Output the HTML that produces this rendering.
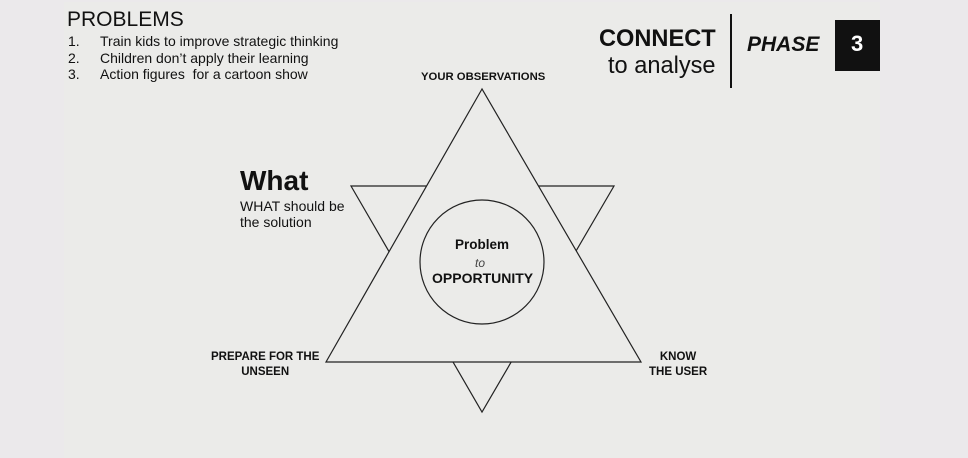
<!DOCTYPE html>
<html><head><meta charset="utf-8"><style>
html,body{margin:0;padding:0;width:968px;height:458px;overflow:hidden;background:#ebe9eb;font-family:"Liberation Sans",sans-serif;}
.slide{position:absolute;left:64px;top:2px;width:816px;height:456px;background:#ebebe9;}
.t{position:absolute;white-space:nowrap;color:#111;}
</style></head><body>
<div class="slide"></div>
<svg style="position:absolute;left:0;top:0" width="968" height="458">
<polygon points="351,186 614,186 482,412" fill="none" stroke="#222" stroke-width="1.2"/>
<polygon points="482,89 326,362 641,362" fill="#ebebe9" stroke="#222" stroke-width="1.2"/>
<circle cx="482" cy="262" r="62" fill="none" stroke="#222" stroke-width="1.2"/>
<line x1="731" y1="14" x2="731" y2="88" stroke="#111" stroke-width="2"/>
<rect x="835" y="20" width="45" height="51" fill="#111"/>
</svg>
<div class="t" style="left:67px;top:8px;font-size:21px;">PROBLEMS</div>
<div class="t" style="left:68px;top:33px;font-size:14px;line-height:16.5px;">1.<br>2.<br>3.</div>
<div class="t" style="left:100px;top:33px;font-size:14px;line-height:16.5px;">Train kids to improve strategic thinking<br>Children don’t apply their learning<br>Action figures&nbsp; for a cartoon show</div>
<div class="t" style="left:599px;top:26px;font-size:23.6px;font-weight:bold;">CONNECT</div>
<div class="t" style="left:608px;top:53px;font-size:23.6px;">to analyse</div>
<div class="t" style="left:747px;top:33px;font-size:21px;font-weight:bold;font-style:italic;">PHASE</div>
<div class="t" style="left:851px;top:31px;font-size:22px;font-weight:bold;color:#fff;">3</div>
<div class="t" style="left:421px;top:71px;font-size:11.3px;font-weight:bold;">YOUR OBSERVATIONS</div>
<div class="t" style="left:240px;top:165px;font-size:28px;font-weight:bold;">What</div>
<div class="t" style="left:240px;top:198px;font-size:14px;line-height:16px;">WHAT should be<br>the solution</div>
<div class="t" style="left:455px;top:237px;font-size:13.5px;font-weight:bold;">Problem</div>
<div class="t" style="left:475px;top:256px;font-size:12px;font-style:italic;color:#444;">to</div>
<div class="t" style="left:432px;top:270px;font-size:14px;font-weight:bold;">OPPORTUNITY</div>
<div class="t" style="left:211px;top:350px;font-size:11.5px;font-weight:bold;text-align:center;line-height:15px;">PREPARE FOR THE<br>UNSEEN</div>
<div class="t" style="left:649px;top:350px;font-size:11.5px;font-weight:bold;text-align:center;line-height:15px;">KNOW<br>THE USER</div>
</body></html>
